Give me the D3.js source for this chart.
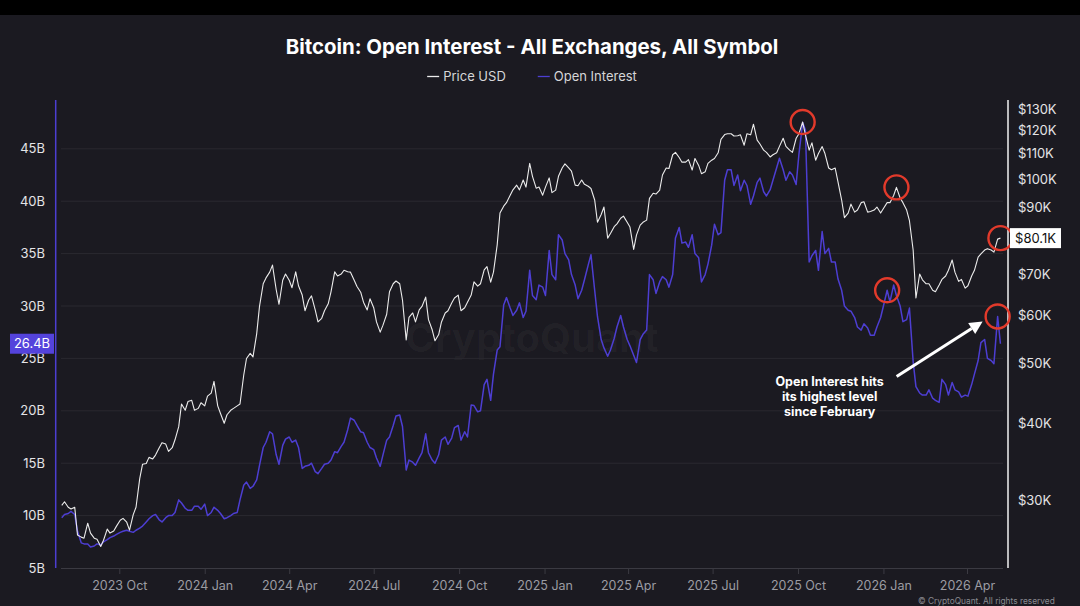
<!DOCTYPE html>
<html><head><meta charset="utf-8">
<script src="https://cdn.jsdelivr.net/npm/d3@7"></script>
<style>
html,body{margin:0;padding:0;background:#1b1a21;}
svg{display:block;}
</style></head><body>
<svg id="chart" width="1080" height="606"></svg>
<script>
// ---- DATA (twice-weekly samples) ----
const dates = [
"2023-07-31","2023-08-03","2023-08-07","2023-08-10","2023-08-14","2023-08-17","2023-08-21","2023-08-24",
"2023-08-28","2023-08-31","2023-09-04","2023-09-07","2023-09-11","2023-09-14","2023-09-18","2023-09-21",
"2023-09-25","2023-09-28","2023-10-02","2023-10-05","2023-10-09","2023-10-12","2023-10-16","2023-10-19",
"2023-10-23","2023-10-26","2023-10-30","2023-11-02","2023-11-06","2023-11-09","2023-11-13","2023-11-16",
"2023-11-20","2023-11-23","2023-11-27","2023-11-30","2023-12-04","2023-12-07","2023-12-11","2023-12-14",
"2023-12-18","2023-12-21","2023-12-25","2023-12-28","2024-01-01","2024-01-04","2024-01-08","2024-01-11",
"2024-01-15","2024-01-18","2024-01-22","2024-01-25","2024-01-29","2024-02-01","2024-02-05","2024-02-08",
"2024-02-12","2024-02-15","2024-02-19","2024-02-22","2024-02-26","2024-02-29","2024-03-04","2024-03-07",
"2024-03-11","2024-03-14","2024-03-18","2024-03-21","2024-03-25","2024-03-28","2024-04-01","2024-04-04",
"2024-04-08","2024-04-11","2024-04-15","2024-04-18","2024-04-22","2024-04-25","2024-04-29","2024-05-02",
"2024-05-06","2024-05-09","2024-05-13","2024-05-16","2024-05-20","2024-05-23","2024-05-27","2024-05-30",
"2024-06-03","2024-06-06","2024-06-10","2024-06-13","2024-06-17","2024-06-20","2024-06-24","2024-06-27",
"2024-07-01","2024-07-04","2024-07-08","2024-07-11","2024-07-15","2024-07-18","2024-07-22","2024-07-25",
"2024-07-29","2024-08-01","2024-08-05","2024-08-08","2024-08-12","2024-08-15","2024-08-19","2024-08-22",
"2024-08-26","2024-08-29","2024-09-02","2024-09-05","2024-09-09","2024-09-12","2024-09-16","2024-09-19",
"2024-09-23","2024-09-26","2024-09-30","2024-10-03","2024-10-07","2024-10-10","2024-10-14","2024-10-17",
"2024-10-21","2024-10-24","2024-10-28","2024-10-31","2024-11-04","2024-11-07","2024-11-11","2024-11-14",
"2024-11-18","2024-11-21","2024-11-25","2024-11-28","2024-12-02","2024-12-05","2024-12-09","2024-12-12",
"2024-12-16","2024-12-19","2024-12-23","2024-12-26","2024-12-30","2025-01-02","2025-01-06","2025-01-09",
"2025-01-13","2025-01-16","2025-01-20","2025-01-23","2025-01-27","2025-01-30","2025-02-03","2025-02-06",
"2025-02-10","2025-02-13","2025-02-17","2025-02-20","2025-02-24","2025-02-27","2025-03-03","2025-03-06",
"2025-03-10","2025-03-13","2025-03-17","2025-03-20","2025-03-24","2025-03-27","2025-03-31","2025-04-03",
"2025-04-07","2025-04-10","2025-04-14","2025-04-17","2025-04-21","2025-04-24","2025-04-28","2025-05-01",
"2025-05-05","2025-05-08","2025-05-12","2025-05-15","2025-05-19","2025-05-22","2025-05-26","2025-05-29",
"2025-06-02","2025-06-05","2025-06-09","2025-06-12","2025-06-16","2025-06-19","2025-06-23","2025-06-26",
"2025-06-30","2025-07-03","2025-07-07","2025-07-10","2025-07-14","2025-07-17","2025-07-21","2025-07-24",
"2025-07-28","2025-07-31","2025-08-04","2025-08-07","2025-08-11","2025-08-14","2025-08-18","2025-08-21",
"2025-08-25","2025-08-28","2025-09-01","2025-09-04","2025-09-08","2025-09-11","2025-09-15","2025-09-18",
"2025-09-22","2025-09-25","2025-09-29","2025-10-02","2025-10-06","2025-10-09","2025-10-13","2025-10-16",
"2025-10-20","2025-10-23","2025-10-27","2025-10-30","2025-11-03","2025-11-06","2025-11-10","2025-11-13",
"2025-11-17","2025-11-20","2025-11-24","2025-11-27","2025-12-01","2025-12-04","2025-12-08","2025-12-11",
"2025-12-15","2025-12-18","2025-12-22","2025-12-25","2025-12-29","2026-01-01","2026-01-05","2026-01-08",
"2026-01-12","2026-01-15","2026-01-19","2026-01-22","2026-01-26","2026-01-29","2026-02-02","2026-02-05",
"2026-02-09","2026-02-12","2026-02-16","2026-02-19","2026-02-23","2026-02-26","2026-03-02","2026-03-05",
"2026-03-09","2026-03-12","2026-03-16","2026-03-19","2026-03-23","2026-03-26","2026-03-30","2026-04-02",
"2026-04-06","2026-04-09","2026-04-13","2026-04-16","2026-04-20","2026-04-23","2026-04-27","2026-04-30",
"2026-05-04","2026-05-07"
];
// Price USD, thousands
const priceUSD = [
29.4,29.8,29.2,29.0,29.2,26.3,26.1,26.0,
27.5,26.5,26.0,25.9,25.2,25.8,26.9,26.5,
26.7,27.2,27.8,28.0,27.6,26.8,28.4,29.2,
32.5,34.3,34.4,35.2,35.0,35.5,36.5,37.2,
37.0,36.0,36.5,37.6,39.5,43.0,42.0,43.4,
43.6,42.0,42.3,43.2,42.7,44.3,44.8,46.8,
42.7,41.5,40.0,41.3,42.0,42.3,42.7,43.0,
47.9,51.0,52.0,51.3,56.0,62.0,67.5,69.0,
70.5,72.4,66.0,62.5,68.4,70.0,68.4,66.5,
70.6,67.0,64.7,61.0,63.5,64.5,61.2,58.5,
59.3,61.0,62.6,65.5,70.6,69.5,70.0,71.0,
70.6,70.5,68.4,66.8,65.4,63.0,61.2,63.8,
61.7,58.5,56.3,57.8,60.2,65.5,67.5,68.2,
67.5,63.5,54.7,59.5,60.5,58.5,61.2,62.0,
64.2,59.0,56.8,54.5,55.8,58.5,60.5,61.0,
62.8,64.0,64.7,61.0,61.7,63.0,64.7,68.0,
66.9,67.5,71.1,72.0,67.9,70.5,78.1,88.0,
90.3,91.5,94.1,96.0,97.7,96.0,99.6,97.0,
106.0,101.0,96.6,97.0,94.1,97.0,100.4,95.0,
95.9,101.0,104.2,105.8,104.2,103.0,97.7,97.5,
99.6,98.0,97.3,96.5,92.4,85.0,87.5,90.0,
80.1,81.5,83.6,84.5,86.3,87.0,85.0,83.5,
76.8,81.0,84.1,85.0,85.7,93.0,94.8,94.5,
95.9,101.5,104.2,104.0,109.5,110.5,108.4,106.5,
106.5,107.5,103.4,108.0,105.2,102.0,102.7,106.0,
107.3,108.0,110.3,116.0,118.1,118.5,118.5,117.5,
117.6,118.0,113.5,118.5,118.0,122.8,115.7,114.0,
111.4,110.5,108.6,109.5,110.3,113.0,116.5,113.0,
111.4,110.5,116.5,118.5,123.8,118.0,111.4,114.5,
107.3,110.0,112.9,110.0,104.2,103.5,104.2,99.0,
92.4,86.5,88.0,91.0,88.3,89.0,91.5,91.8,
88.3,88.5,89.0,90.0,88.0,89.5,91.5,91.5,
94.0,96.9,93.1,91.5,89.0,85.5,76.6,64.0,
70.0,68.5,67.5,67.5,65.9,65.5,67.2,68.6,
69.5,71.0,73.8,70.5,68.1,68.6,66.4,67.0,
69.5,71.0,74.6,75.5,76.6,77.0,76.6,76.0,
79.8,80.1
];
// Open Interest, billions USD
const openInterest = [
9.8,10.1,10.2,10.4,10.1,8.5,7.4,7.3,
7.3,7.0,7.1,7.3,7.2,7.5,7.7,7.9,
8.05,8.2,8.4,8.5,8.6,8.5,8.4,8.6,
8.8,9.0,9.4,9.7,10.0,10.1,9.6,9.4,
9.8,10.0,10.0,10.3,11.5,11.2,10.7,10.5,
10.5,10.9,10.9,10.6,11.1,10.0,10.3,10.8,
10.5,10.2,9.7,9.8,10.0,10.2,10.3,11.5,
12.9,13.2,12.6,12.8,13.4,14.8,16.5,17.0,
18.0,17.8,15.8,14.9,16.7,17.3,17.5,17.0,
17.2,16.5,14.5,14.7,14.8,15.0,14.2,14.0,
14.5,14.9,15.0,15.3,16.1,16.0,16.6,17.0,
18.2,19.3,19.1,18.6,18.0,17.9,17.0,16.5,
16.3,15.5,14.7,15.8,17.2,17.5,18.6,19.5,
19.6,18.5,14.35,15.3,15.1,14.8,15.5,16.0,
17.8,16.0,15.3,15.0,15.8,17.2,17.5,16.8,
17.4,18.4,18.6,17.2,18.0,17.5,20.55,20.5,
19.9,20.0,22.5,23.0,21.0,23.5,25.8,26.1,
30.1,30.8,29.8,29.1,29.6,30.3,28.9,29.5,
33.4,31.0,30.6,32.0,31.8,31.0,35.3,33.0,
32.5,36.8,36.3,35.0,34.4,33.0,32.0,30.7,
31.5,32.5,33.9,34.9,31.5,29.0,26.8,26.0,
25.2,25.8,26.9,28.0,29.1,28.0,26.8,26.2,
25.3,24.6,26.8,27.3,27.7,33.0,32.5,31.2,
32.3,32.8,32.5,31.8,33.0,36.5,37.5,36.0,
36.1,35.6,36.8,35.0,34.6,32.3,33.0,34.0,
35.8,37.8,36.8,37.0,42.0,43.0,43.0,41.5,
42.5,41.0,42.0,41.5,39.7,40.5,41.8,42.2,
40.9,40.5,41.1,42.0,43.2,44.1,43.0,42.0,
42.8,42.5,41.6,44.5,47.5,46.8,34.2,34.8,
35.3,33.4,37.1,35.0,35.5,34.2,34.2,32.6,
31.5,30.0,29.6,29.5,28.9,28.0,27.7,28.3,
27.9,27.2,27.2,28.0,28.9,30.0,31.5,30.4,
32.0,31.0,30.0,28.5,28.7,29.8,24.7,22.3,
21.7,21.5,21.5,22.0,21.2,21.0,20.8,23.0,
22.5,21.5,22.7,22.0,21.8,21.3,21.5,21.4,
22.5,23.5,24.8,26.5,26.8,25.0,24.8,24.5,
29.0,26.4
];
const oiTicks = [5,10,15,20,25,30,35,40,45];
const priceTicks = [30,40,50,60,70,90,100,110,120,130];
const xTickDates = ["2023-10-01","2024-01-01","2024-04-01","2024-07-01","2024-10-01","2025-01-01",
                    "2025-04-01","2025-07-01","2025-10-01","2026-01-01","2026-04-01"];
const titleText = "Bitcoin: Open Interest - All Exchanges, All Symbol";
const legendLabels = ["Price USD","Open Interest"];
const highlightPriceIdx = [228,257,289];
const highlightOIIdx = [254,288];
const annotationLines = ["Open Interest hits","its highest level","since February"];
const creditText = "© CryptoQuant. All rights reserved";
const watermarkText = "CryptoQuant";

// ---- STYLE / LAYOUT ----
const W=1080,H=606;
const FONT="Inter, 'Noto Sans', 'DejaVu Sans', sans-serif";
const C={bg:"#1b1a21",grid:"#2a2930",axis:"#3b3a42",purple:"#4d3ed2",purpleBox:"#5443dc",
         price:"#ececec",text:"#e4e4e6",xText:"#9c9ca3",red:"#e23a2b"};
const plot={left:61,right:1003,top:96,bottom:568};

const parse=d3.timeParse("%Y-%m-%d");
const D=dates.map(parse);
const x=d3.scaleTime().domain([parse("2023-10-01"),parse("2026-04-01")]).range([119.3,967]);
const yL=d3.scaleLinear().domain([5,50]).range([plot.bottom,96.4]);
const yR=d3.scaleLog().domain([30,130]).range([500,109]);

const svg=d3.select("#chart");
svg.append("rect").attr("width",W).attr("height",H).attr("fill",C.bg);
svg.append("rect").attr("width",W).attr("height",15).attr("fill","#000");

// watermark
svg.append("text").attr("x",(plot.left+plot.right)/2).attr("y",352).attr("text-anchor","middle")
  .attr("font-family",FONT).attr("font-weight",700).attr("font-size",40)
  .attr("fill","#ffffff").attr("fill-opacity",0.035).text(watermarkText);

// gridlines
svg.append("g").selectAll("line").data(oiTicks.slice(1)).join("line")
  .attr("x1",plot.left).attr("x2",plot.right).attr("y1",d=>yL(d)).attr("y2",d=>yL(d))
  .attr("stroke",C.grid).attr("stroke-width",1);

// x axis
const xAxis=d3.axisBottom(x).tickValues(xTickDates.map(parse)).tickFormat(d3.timeFormat("%Y %b")).tickSize(6).tickSizeOuter(0);
const gx=svg.append("g").attr("transform",`translate(0,${plot.bottom})`).call(xAxis);
gx.select(".domain").attr("d",`M${plot.left},0.5H${plot.right}`).attr("stroke",C.axis);
gx.selectAll(".tick line").attr("stroke",C.axis);
gx.selectAll(".tick text").attr("fill",C.xText).attr("font-family",FONT).attr("font-size",12.5).attr("dy","1.05em");

// left axis
svg.append("line").attr("x1",55.7).attr("x2",55.7).attr("y1",100).attr("y2",plot.bottom)
  .attr("stroke",C.purple).attr("stroke-width",1.5);
svg.append("g").selectAll("text").data(oiTicks).join("text")
  .attr("x",45).attr("y",d=>yL(d)).attr("dy","0.36em").attr("text-anchor","end")
  .attr("font-family",FONT).attr("font-size",13).attr("fill",C.text).text(d=>d+"B");

// right axis
svg.append("line").attr("x1",1008).attr("x2",1008).attr("y1",100).attr("y2",plot.bottom)
  .attr("stroke","#f2f2f2").attr("stroke-width",1.5);
svg.append("g").selectAll("text").data(priceTicks).join("text")
  .attr("x",1018).attr("y",d=>yR(d)).attr("dy","0.36em").attr("text-anchor","start")
  .attr("font-family",FONT).attr("font-size",13).attr("fill",C.text).text(d=>"$"+d+"K");

// series
const oiData=D.map((d,i)=>({date:d,v:openInterest[i]}));
const prData=D.map((d,i)=>({date:d,v:priceUSD[i]}));
svg.append("path").datum(oiData).attr("fill","none").attr("stroke",C.purple).attr("stroke-width",1.5)
  .attr("stroke-linejoin","round").attr("d",d3.line().x(d=>x(d.date)).y(d=>yL(d.v)));
svg.append("path").datum(prData).attr("fill","none").attr("stroke",C.price).attr("stroke-width",1.1)
  .attr("stroke-linejoin","round").attr("d",d3.line().x(d=>x(d.date)).y(d=>yR(d.v)));

// highlight circles
const circ=[...highlightPriceIdx.map(i=>({cx:x(D[i]),cy:yR(priceUSD[i])})),
            ...highlightOIIdx.map(i=>({cx:x(D[i]),cy:yL(openInterest[i])}))];
svg.append("g").selectAll("circle").data(circ).join("circle")
  .attr("cx",d=>d.cx).attr("cy",d=>d.cy).attr("r",12)
  .attr("fill","none").attr("stroke",C.red).attr("stroke-width",2.4);

// annotation
const tgt={cx:x(D[highlightOIIdx[1]]),cy:yL(openInterest[highlightOIIdx[1]])};
const ax1=tgt.cx-101, ay1=tgt.cy+60, ax2=tgt.cx-15, ay2=tgt.cy+5;
const ang=Math.atan2(ay2-ay1,ax2-ax1), hl=13, hw=6.5;
const bx=ax2-hl*Math.cos(ang), by=ay2-hl*Math.sin(ang);
svg.append("line").attr("x1",ax1).attr("y1",ay1).attr("x2",bx).attr("y2",by)
  .attr("stroke","#fff").attr("stroke-width",3);
svg.append("path").attr("fill","#fff").attr("d",
  `M${ax2},${ay2}L${bx+hw*Math.sin(ang)},${by-hw*Math.cos(ang)}L${bx-hw*Math.sin(ang)},${by+hw*Math.cos(ang)}Z`);
svg.append("g").selectAll("text").data(annotationLines).join("text")
  .attr("x",tgt.cx-168).attr("y",(d,i)=>tgt.cy+69.5+i*15).attr("text-anchor","middle")
  .attr("font-family",FONT).attr("font-weight",700).attr("font-size",12.5).attr("fill","#fff").text(d=>d);

// last value boxes
const lastOI=openInterest[openInterest.length-1], lastPr=priceUSD[priceUSD.length-1];
svg.append("rect").attr("x",10).attr("y",yL(lastOI)-10).attr("width",44).attr("height",20).attr("fill",C.purpleBox);
svg.append("text").attr("x",32).attr("y",yL(lastOI)).attr("dy","0.36em").attr("text-anchor","middle")
  .attr("font-family",FONT).attr("font-size",13).attr("fill","#fff").text(d3.format(".1f")(lastOI)+"B");
svg.append("rect").attr("x",1010).attr("y",yR(lastPr)-10).attr("width",51).attr("height",20).attr("fill","#fff");
svg.append("text").attr("x",1035.5).attr("y",yR(lastPr)).attr("dy","0.36em").attr("text-anchor","middle")
  .attr("font-family",FONT).attr("font-size",13).attr("fill","#111").text("$"+d3.format(".1f")(lastPr)+"K");

// title
const cxT=(plot.left+plot.right)/2;
const t=svg.append("text").attr("x",cxT).attr("y",54).attr("text-anchor","middle")
  .attr("font-family",FONT).attr("font-weight",700).attr("font-size",20).attr("fill","#fff").text(titleText);
const tw=t.node().getComputedTextLength(); t.attr("font-size",20*493/tw);

// legend
const lg=svg.append("g");
const colors=[C.price,C.purple];
const items=legendLabels.map((l,i)=>{
  const g=lg.append("g");
  g.append("line").attr("x1",0).attr("x2",12).attr("y1",0).attr("y2",0).attr("stroke",colors[i]).attr("stroke-width",1.3);
  const tx=g.append("text").attr("x",16).attr("y",0).attr("dy","0.36em").attr("font-family",FONT)
    .attr("font-size",13).attr("fill","#d6d6d8").text(l);
  return {g,w:16+tx.node().getComputedTextLength()};
});
const gap=32, total=items[0].w+gap+items[1].w;
let lx=cxT-total/2;
items.forEach(it=>{it.g.attr("transform",`translate(${lx},76.5)`); lx+=it.w+gap;});

// credit
const cr=svg.append("text").attr("x",918).attr("y",604).attr("font-family",FONT).attr("font-size",10)
  .attr("fill","#8a8a90").text(creditText);
const cw=cr.node().getComputedTextLength(); cr.attr("font-size",10*137/cw);
</script>
</body></html>
